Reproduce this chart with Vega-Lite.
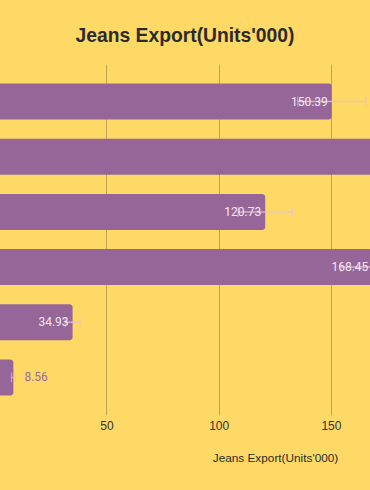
{
  "$schema": "https://vega.github.io/schema/vega-lite/v6.json",
  "autosize": "none",
  "width": 370,
  "height": 350.4,
  "padding": {"left": 0, "right": 0, "top": 64.3, "bottom": 75.3},
  "background": "#FFD966",
  "title": {
    "text": "Jeans Export(Units'000)",
    "font": "Liberation Sans",
    "fontSize": 19.3,
    "fontWeight": "bold",
    "color": "#2b2b2b",
    "anchor": "middle",
    "baseline": "alphabetic",
    "offset": 3
  },
  "data": {
    "values": [
      {"country": "Bangladesh", "value": 150.39, "err": 15.2},
      {"country": "China", "value": 191.27, "err": 16.0},
      {"country": "India", "value": 120.73, "err": 12.1},
      {"country": "Vietnam", "value": 168.45, "err": 14.0},
      {"country": "Pakistan", "value": 34.93, "err": 3.3},
      {"country": "Turkey", "value": 8.56, "err": 0.9}
    ]
  },
  "encoding": {
    "y": {
      "field": "country",
      "type": "nominal",
      "sort": null,
      "axis": null,
      "scale": {"paddingInner": 0.348, "paddingOuter": 0.35}
    }
  },
  "layer": [
    {
      "mark": {"type": "bar", "color": "#976699", "cornerRadius": 3, "clip": true},
      "encoding": {
        "x": {
          "field": "value",
          "type": "quantitative",
          "scale": {"domain": [2.6, 167.4], "nice": false, "zero": false},
          "axis": {
            "values": [50, 100, 150],
            "grid": true,
            "gridColor": "#c4a454",
            "gridWidth": 1,
            "domain": false,
            "ticks": false,
            "tickSize": 0,
            "labelPadding": 6,
            "labelFont": "Liberation Sans",
            "labelFontSize": 12,
            "labelColor": "#333333",
            "title": "Jeans Export(Units'000)",
            "titleFont": "Liberation Sans",
            "titleFontSize": 11.8,
            "titleFontWeight": "normal",
            "titleColor": "#2b2b2b",
            "titleX": 275,
            "titleY": 47,
            "titleAlign": "center",
            "titleBaseline": "alphabetic"
          }
        },
        "x2": {"datum": 0}
      }
    },
    {
      "mark": {
        "type": "errorbar",
        "clip": true,
        "ticks": {"size": 10, "color": "#e3c3cf", "strokeWidth": 1.5},
        "rule": {"color": "#e3c3cf", "strokeWidth": 1.5, "opacity": 0.8}
      },
      "encoding": {
        "x": {
          "field": "value",
          "type": "quantitative",
          "scale": {"domain": [2.6, 167.4], "nice": false, "zero": false},
          "title": "Jeans Export(Units'000)"
        },
        "xError": {"field": "err"}
      }
    },
    {
      "transform": [{"filter": "datum.value > 20 && datum.value < 180"}],
      "mark": {
        "type": "text",
        "align": "right",
        "baseline": "middle",
        "dx": -4,
        "font": "Roboto",
        "fontSize": 12,
        "color": "#f3e8f2",
        "clip": true
      },
      "encoding": {
        "x": {
          "field": "value",
          "type": "quantitative",
          "scale": {"domain": [2.6, 167.4], "nice": false, "zero": false},
          "title": "Jeans Export(Units'000)"
        },
        "text": {"field": "value", "type": "quantitative", "format": ".2f"}
      }
    },
    {
      "transform": [{"filter": "datum.value <= 20"}],
      "mark": {
        "type": "text",
        "align": "left",
        "baseline": "middle",
        "dx": 11,
        "font": "Roboto",
        "fontSize": 12,
        "color": "#9b6aa0",
        "clip": true
      },
      "encoding": {
        "x": {
          "field": "value",
          "type": "quantitative",
          "scale": {"domain": [2.6, 167.4], "nice": false, "zero": false},
          "title": "Jeans Export(Units'000)"
        },
        "text": {"field": "value", "type": "quantitative", "format": ".2f"}
      }
    }
  ],
  "config": {"view": {"stroke": null}}
}
